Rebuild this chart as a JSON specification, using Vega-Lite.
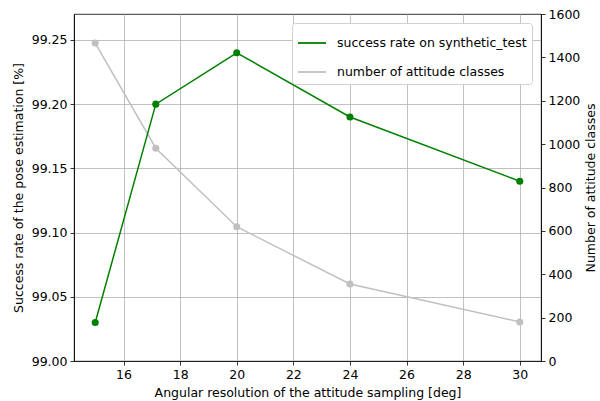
{
  "$schema": "https://vega.github.io/schema/vega-lite/v6.json",
  "width": 467,
  "height": 347,
  "autosize": {"type": "none"},
  "padding": {"left": 74, "top": 14, "right": 59, "bottom": 40},
  "background": "white",
  "config": {
    "font": "DejaVu Sans",
    "view": {"stroke": "black", "strokeWidth": 0.8},
    "axis": {
      "labelFont": "DejaVu Sans", "titleFont": "DejaVu Sans",
      "labelFontSize": 12.5, "titleFontSize": 12.5, "titleFontWeight": "normal",
      "labelColor": "black", "titleColor": "black",
      "domainColor": "black", "tickColor": "black", "domainWidth": 0.8, "tickWidth": 0.8,
      "tickSize": 4, "labelPadding": 3, "gridColor": "#b0b0b0", "gridWidth": 0.8
    },
    "legend": {
      "labelFont": "DejaVu Sans", "labelFontSize": 12.5, "labelColor": "black"
    }
  },
  "data": {"values": [
    {"res": 15, "rate": 99.03, "classes": 1466},
    {"res": 17.14, "rate": 99.20, "classes": 981},
    {"res": 20, "rate": 99.24, "classes": 619},
    {"res": 24, "rate": 99.19, "classes": 355},
    {"res": 30, "rate": 99.14, "classes": 180}
  ]},
  "encoding": {
    "x": {"field": "res", "type": "quantitative",
      "scale": {"domain": [14.25, 30.75], "nice": false, "zero": false},
      "axis": {"values": [16, 18, 20, 22, 24, 26, 28, 30], "title": "Angular resolution of the attitude sampling [deg]", "grid": true, "titlePadding": 6}}
  },
  "layer": [
    {
      "encoding": {
        "y": {"field": "classes", "type": "quantitative",
          "scale": {"domain": [0, 1600], "nice": false},
          "axis": {"orient": "right", "values": [0, 200, 400, 600, 800, 1000, 1200, 1400, 1600], "format": "d", "grid": false, "title": "Number of attitude classes", "titleAngle": 270, "titleBaseline": "top", "titlePadding": 5}},
        "color": {"datum": "number of attitude classes", "type": "nominal",
          "scale": {"domain": ["success rate on synthetic_test", "number of attitude classes"], "range": ["#008000", "#c0c0c0"]},
          "legend": {"title": null, "orient": "top-right", "offset": 9, "symbolType": "stroke", "symbolSize": 784, "symbolStrokeWidth": 1.8,
            "labelLimit": 400, "strokeColor": "#d0d0d0", "fillColor": "white", "cornerRadius": 3, "padding": 5, "rowPadding": 7, "labelOffset": 10}}
      },
      "layer": [
        {"mark": {"type": "line", "strokeWidth": 1.5}},
        {"mark": {"type": "point", "filled": true, "size": 50, "opacity": 1}}
      ]
    },
    {
      "encoding": {
        "y": {"field": "rate", "type": "quantitative",
          "scale": {"domain": [99.0, 99.2702], "nice": false, "zero": false},
          "axis": {"orient": "left", "values": [99.0, 99.05, 99.1, 99.15, 99.2, 99.25], "format": ".2f", "grid": true, "title": "Success rate of the pose estimation [%]", "titlePadding": 6}},
        "color": {"datum": "success rate on synthetic_test", "type": "nominal"}
      },
      "layer": [
        {"mark": {"type": "line", "strokeWidth": 1.5}},
        {"mark": {"type": "point", "filled": true, "size": 50, "opacity": 1}}
      ]
    }
  ],
  "resolve": {"scale": {"y": "independent"}}
}
